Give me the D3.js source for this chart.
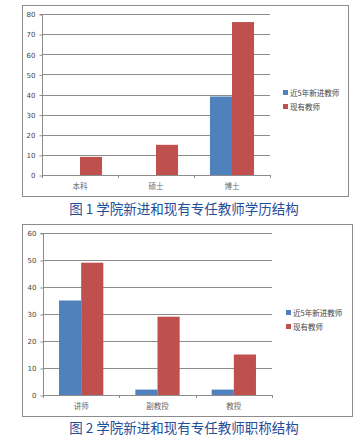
<!DOCTYPE html>
<html><head><meta charset="utf-8">
<script src="https://cdn.jsdelivr.net/npm/d3@7/dist/d3.min.js"></script>
<style>body{margin:0;background:#fff}svg{display:block}</style>
</head><body>
<script>
const seriesNames = ["近5年新进教师", "现有教师"];
const colors = ["#4f81bd", "#c0504d"];

const cats1 = ["本科", "硕士", "博士"];
const newTeachers1 = [0, 0, 39];
const currentTeachers1 = [9, 15, 76];
const ticks1 = [0, 10, 20, 30, 40, 50, 60, 70, 80];
const title1 = "图 1 学院新进和现有专任教师学历结构";

const cats2 = ["讲师", "副教授", "教授"];
const newTeachers2 = [35, 2, 2];
const currentTeachers2 = [49, 29, 15];
const ticks2 = [0, 10, 20, 30, 40, 50, 60];
const title2 = "图 2 学院新进和现有专任教师职称结构";

const svg = d3.select("body").append("svg").attr("width", 360).attr("height", 446);

function drawChart(cfg) {
  const g = svg.append("g");
  g.append("rect").attr("x", cfg.frame[0] + 0.5).attr("y", cfg.frame[1] + 0.5)
    .attr("width", cfg.frame[2] - cfg.frame[0]).attr("height", cfg.frame[3] - cfg.frame[1])
    .attr("fill", "none").attr("stroke", "#8c8c8c").attr("stroke-width", 1);

  const x = d3.scaleBand().domain(cfg.cats).range([cfg.plot[0], cfg.plot[2]]).paddingInner(0.42).paddingOuter(0.21);
  const xs = d3.scaleBand().domain([0, 1]).range([0, x.bandwidth()]);
  const y = d3.scaleLinear().domain([0, d3.max(cfg.ticks)]).range([cfg.plot[3], cfg.plot[1]]);

  g.selectAll(".grid").data(cfg.ticks.filter(t => t > 0)).join("line")
    .attr("x1", cfg.plot[0]).attr("x2", cfg.plot[2])
    .attr("y1", d => Math.round(y(d)) + 0.5).attr("y2", d => Math.round(y(d)) + 0.5)
    .attr("stroke", "#8c8c8c").attr("stroke-width", 1);

  const yAxis = d3.axisLeft(y).tickValues(cfg.ticks).tickSize(3).tickPadding(4);
  const ya = g.append("g").attr("transform", `translate(${cfg.plot[0] + 0.5},0.5)`).call(yAxis);
  ya.select(".domain").attr("stroke", "#8c8c8c").attr("d", `M-3,${y(d3.max(cfg.ticks))}H0V${cfg.plot[3]}`);
  ya.selectAll(".tick line").attr("stroke", "#8c8c8c");
  ya.selectAll("text").attr("font-family", "DejaVu Sans, sans-serif").attr("font-size", 7).attr("fill", "#444");

  const series = [cfg.s1, cfg.s2];
  series.forEach((vals, si) => {
    g.selectAll(".bar" + si).data(vals.map((v, i) => ({ v, c: cfg.cats[i] }))).join("rect")
      .attr("x", d => x(d.c) + xs(si)).attr("width", xs.bandwidth())
      .attr("y", d => y(d.v)).attr("height", d => y(0) - y(d.v))
      .attr("fill", colors[si]);
  });

  const x0 = cfg.plot[3];
  const xa = g.append("g");
  xa.append("line").attr("x1", cfg.plot[0]).attr("x2", cfg.plot[2] + 1).attr("y1", x0 + 0.5).attr("y2", x0 + 0.5)
    .attr("stroke", "#8c8c8c");
  const bounds = d3.range(cfg.cats.length + 1).map(i => cfg.plot[0] + i * (cfg.plot[2] - cfg.plot[0]) / cfg.cats.length);
  xa.selectAll(".xt").data(bounds).join("line")
    .attr("x1", d => Math.round(d) + 0.5).attr("x2", d => Math.round(d) + 0.5)
    .attr("y1", x0).attr("y2", x0 + 3).attr("stroke", "#8c8c8c");
  xa.selectAll(".xl").data(cfg.cats).join("text")
    .attr("x", d => x(d) + x.bandwidth() / 2).attr("y", x0 + 14)
    .attr("text-anchor", "middle").attr("font-family", "Noto Sans CJK SC, sans-serif")
    .attr("font-size", 7.5).attr("fill", "#666").text(d => d);

  seriesNames.forEach((n, i) => {
    const ly = cfg.legend[1] + i * 14;
    g.append("rect").attr("x", cfg.legend[0]).attr("y", ly - 3).attr("width", 5).attr("height", 5).attr("fill", colors[i]);
    g.append("text").attr("x", cfg.legend[0] + 7).attr("y", ly + 2.5)
      .attr("font-family", "Noto Sans CJK SC, sans-serif").attr("font-size", 7.5).attr("fill", "#444").text(n);
  });

  svg.append("text").attr("x", cfg.titlePos[0]).attr("y", cfg.titlePos[1]).attr("text-anchor", "middle")
    .attr("font-family", "Noto Sans CJK SC, sans-serif").attr("font-size", 13.5).attr("fill", "#1f4e9a").text(cfg.title);
}

drawChart({ frame: [22, 5, 348, 196], plot: [42, 14, 270, 175], cats: cats1, s1: newTeachers1, s2: currentTeachers1,
  ticks: ticks1, legend: [283, 93], title: title1, titlePos: [184, 214] });

drawChart({ frame: [22, 224, 352, 416], plot: [43, 233, 272, 395], cats: cats2, s1: newTeachers2, s2: currentTeachers2,
  ticks: ticks2, legend: [286, 313], title: title2, titlePos: [184, 433] });
</script>
</body></html>
